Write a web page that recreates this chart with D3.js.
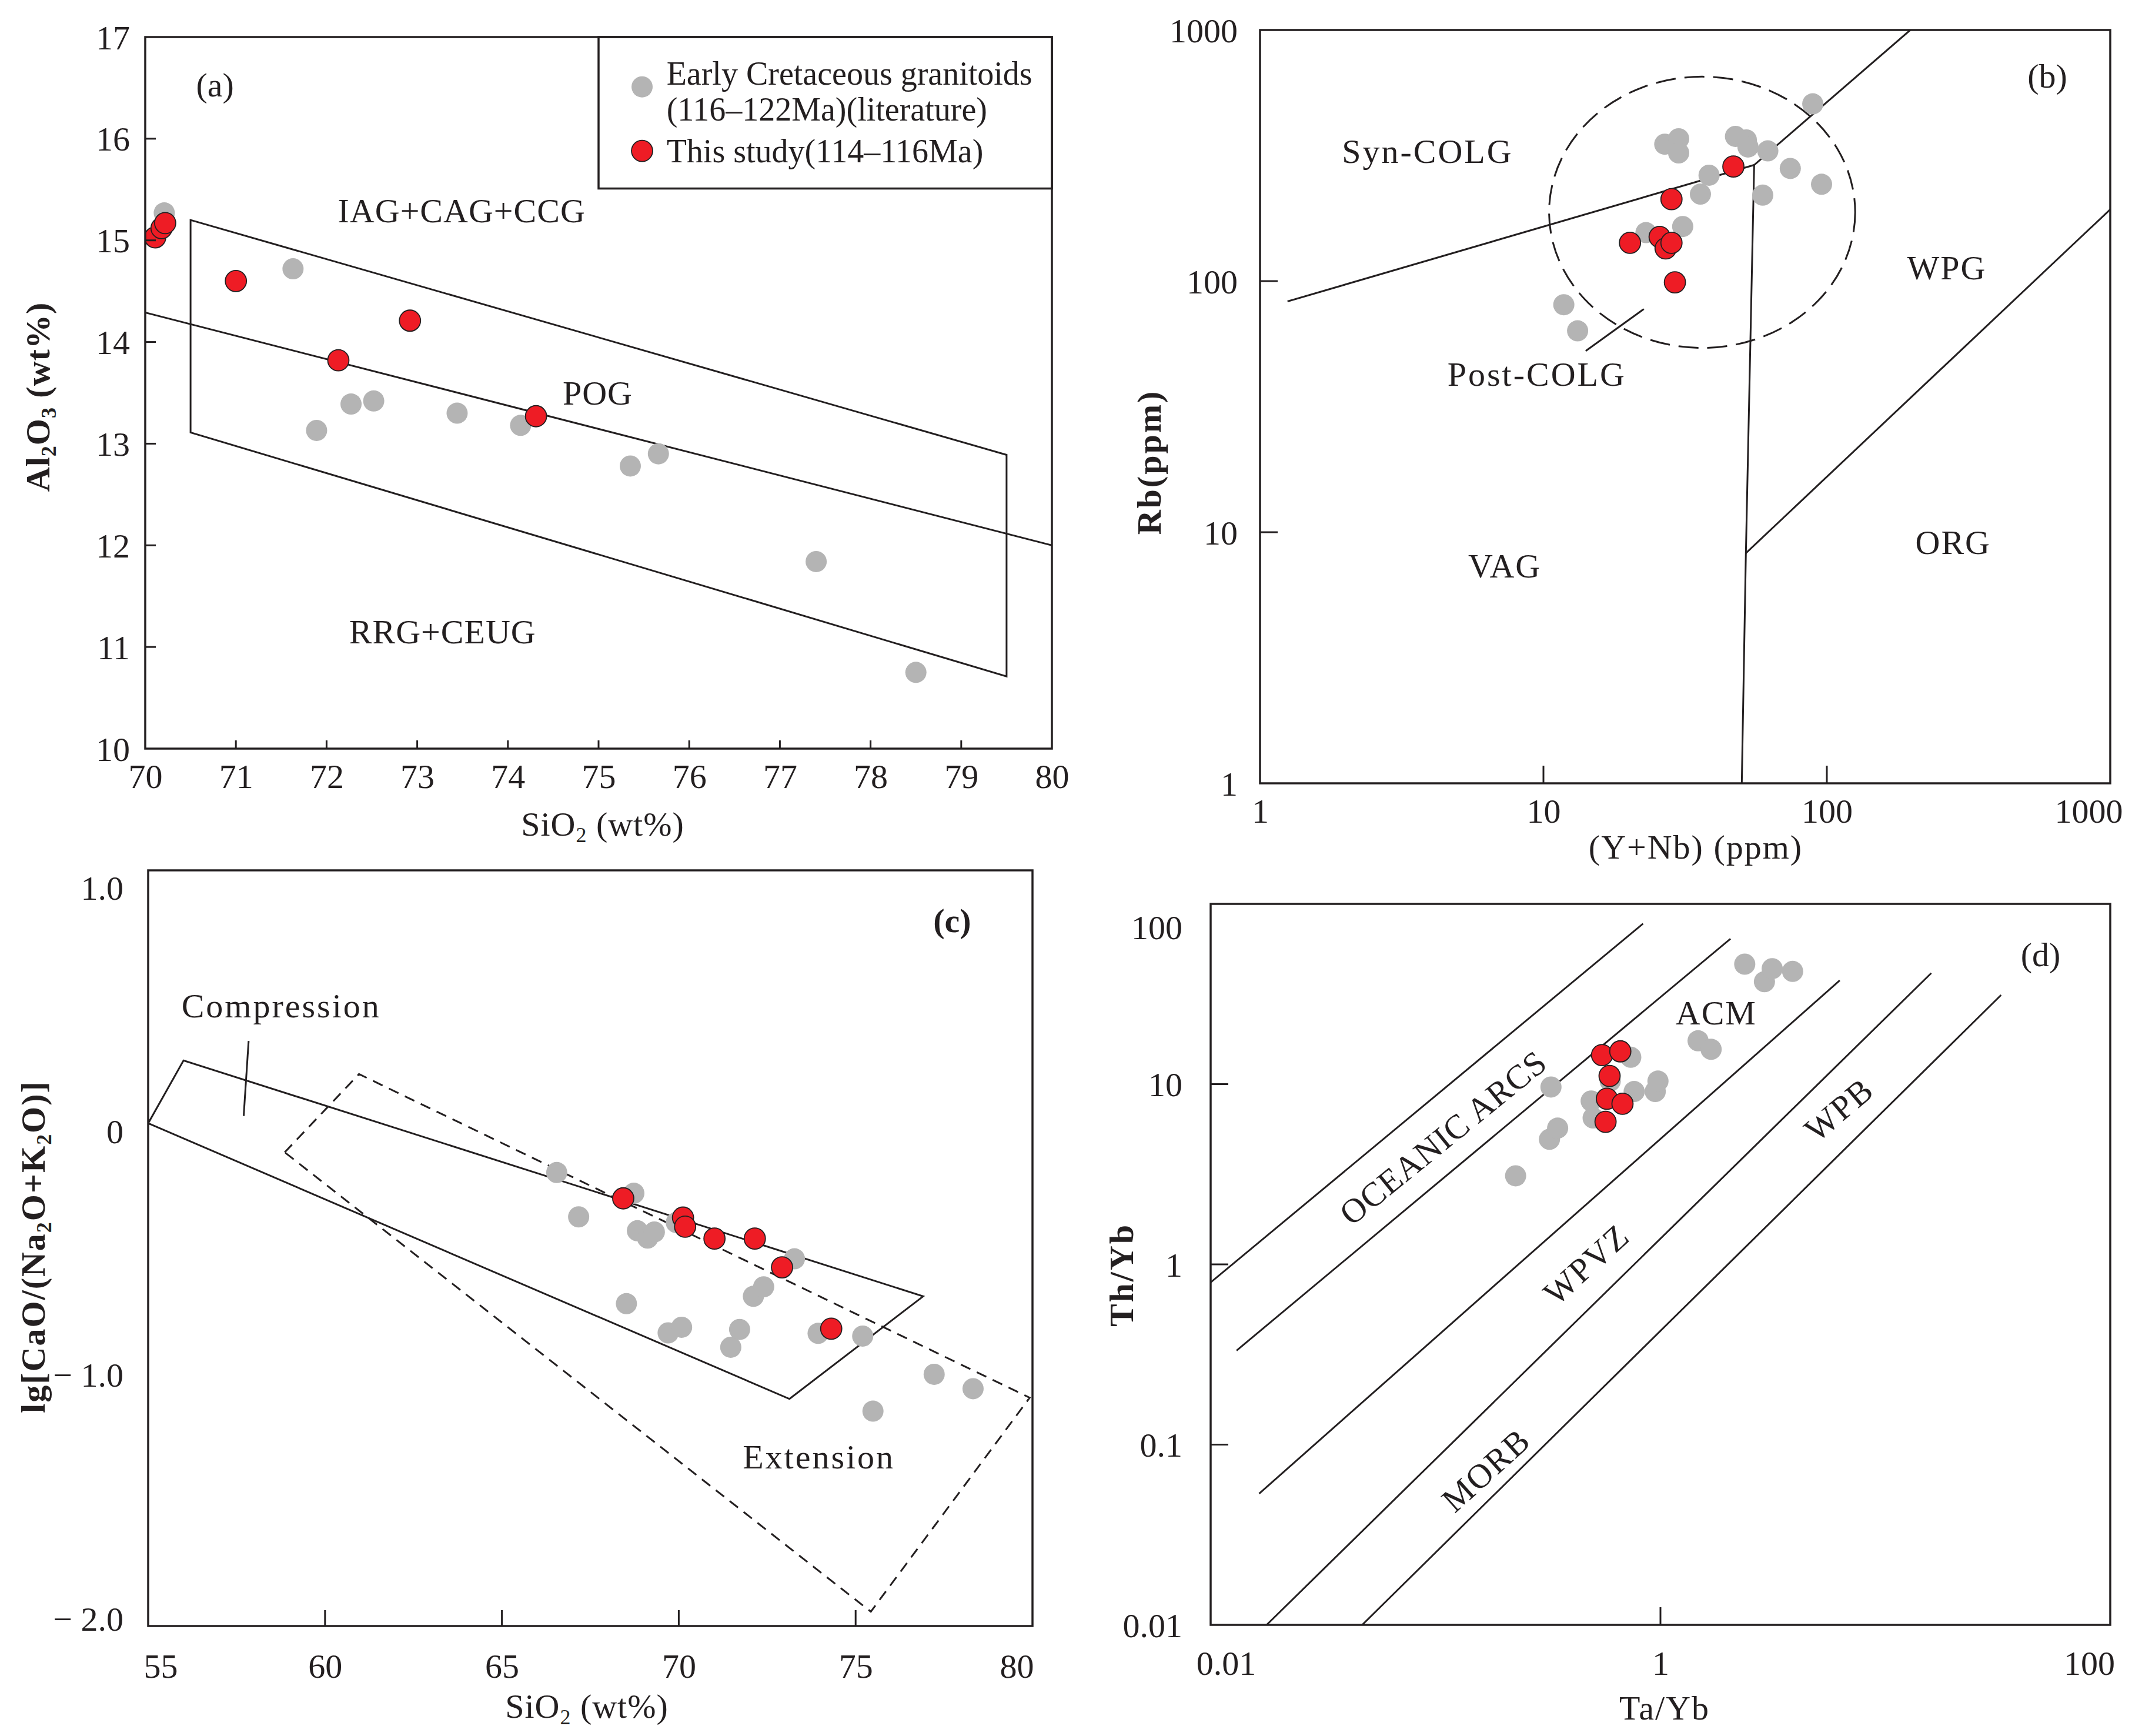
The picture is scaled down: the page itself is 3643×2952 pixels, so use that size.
<!DOCTYPE html>
<html>
<head>
<meta charset="utf-8">
<script src="https://cdn.jsdelivr.net/npm/d3@7"></script>
<style>html,body{margin:0;background:#fff}</style>
</head>
<body>
<svg id="fig" width="3643" height="2952"></svg>
<script>
// ---- (a) Al2O3 vs SiO2 ----
const aGraySiO2  = [70.21, 70.10, 71.63, 71.89, 72.27, 72.52, 73.44, 74.14, 75.35, 75.66, 77.40, 78.50];
const aGrayAl2O3 = [15.27, 15.03, 14.72, 13.13, 13.39, 13.42, 13.30, 13.18, 12.78, 12.90, 11.84, 10.75];
const aRedSiO2   = [70.11, 70.18, 70.22, 71.00, 72.92, 72.13, 74.31];
const aRedAl2O3  = [15.03, 15.12, 15.17, 14.60, 14.21, 13.82, 13.27];
const aXTicks = [70, 71, 72, 73, 74, 75, 76, 77, 78, 79, 80];
const aYTicks = [10, 11, 12, 13, 14, 15, 16, 17];
const aBox  = [[70.5, 15.2], [79.5, 12.89], [79.5, 10.71], [70.5, 13.11]];
const aLine = [[70, 14.29], [80, 12.0]];

// ---- (b) Rb vs Y+Nb ----
const bGrayYNb = [11.8, 13.2, 26.8, 30.0, 30.0, 38.4, 35.8, 47.6, 52.0, 52.7, 61.9, 59.4, 74.3, 89.2, 95.8, 23.0, 31.0, 26.8];
const bGrayRb  = [80.5, 63.4, 351, 369, 324, 264, 222, 377, 365, 342, 330, 220, 281, 508, 243, 156, 165, 136];
const bRedYNb  = [46.8, 28.3, 20.2, 25.7, 27.0, 28.3, 29.1];
const bRedRb   = [286, 212, 142, 150, 135, 142, 98.9];
const bTicks = [1, 10, 100, 1000];
const bSynVag  = [[1.25, 83], [55.4, 290]];
const bSynWpg  = [[55.4, 290], [197, 1000]];
const bVagWpg  = [[55.4, 290], [51.8, 8.25], [50.1, 1]];
const bWpgOrg  = [[51.8, 8.25], [1000, 193]];
const bPostColg = {x: 36.3, y: 188, r: 0.54};
const bPostLeader = [[14.1, 52.7], [22.6, 77.4]];

// ---- (c) lg[CaO/(Na2O+K2O)] vs SiO2 ----
const cGraySiO2 = [66.55, 67.17, 68.73, 68.83, 69.12, 69.31, 68.52, 69.70, 70.08, 69.93, 71.47, 71.72, 72.11, 72.40, 73.27, 73.94, 75.20, 75.49, 77.22, 78.32];
const cGrayLg   = [-0.170, -0.352, -0.255, -0.409, -0.439, -0.414, -0.708, -0.828, -0.805, -0.375, -0.887, -0.814, -0.678, -0.639, -0.524, -0.830, -0.841, -1.149, -0.998, -1.057];
const cRedSiO2  = [68.43, 70.12, 70.18, 71.01, 72.15, 72.92, 74.31];
const cRedLg    = [-0.276, -0.355, -0.392, -0.441, -0.441, -0.559, -0.811];
const cXTicks = [55, 60, 65, 70, 75, 80];
const cYTicks = [1, 0, -1, -2];
const cYLabels = ["1.0", "0", "\u2212 1.0", "\u2212 2.0"];
const cCompression = [[55, 0.032], [56.0, 0.29], [76.91, -0.678], [73.13, -1.099]];
const cCompLeader  = [[57.84, 0.37], [57.70, 0.062]];
const cExtension   = [[58.86, -0.087], [60.96, 0.234], [79.92, -1.094], [75.43, -1.972]];

// ---- (d) Th/Yb vs Ta/Yb ----
const dGrayTaYb = [0.227, 0.321, 0.349, 0.326, 0.492, 0.502, 0.738, 0.764, 0.948, 0.975, 1.47, 1.68, 2.37, 2.90, 3.14, 3.87, 0.598];
const dGrayThYb = [3.10, 4.94, 5.70, 9.64, 8.06, 6.49, 14.1, 9.10, 9.10, 10.4, 17.4, 15.6, 46.3, 37.0, 43.7, 42.2, 10.4];
const dRedTaYb  = [0.550, 0.663, 0.594, 0.578, 0.678, 0.570];
const dRedThYb  = [14.5, 15.2, 11.1, 8.29, 7.78, 6.18];
const dXTicks = [0.01, 1, 100];
const dYTicks = [0.01, 0.1, 1, 10, 100];
const dLines = [
  [[0.01, 0.794], [0.837, 77.7]],
  [[0.01304, 0.3326], [2.048, 64.0]],
  [[0.01643, 0.0535], [6.27, 37.6]],
  [[0.01774, 0.01], [16.0, 41.3]],
  [[0.0472, 0.01], [32.7, 31.2]]
];

const INK = "#231f20", GRAY = "#b4b4b4", RED = "#ee1c25";
const FONT = "'Liberation Serif', 'Times New Roman', serif";
const FS = 58, R = 18;

const svg = d3.select("#fig");
svg.append("rect").attr("width", 3643).attr("height", 2952).attr("fill", "#fff");
const defs = svg.append("defs");

function panel(id, xs, ys) {
  const [x0, x1] = xs.range(), [y0, y1] = ys.range();
  defs.append("clipPath").attr("id", "clip-" + id).append("rect")
    .attr("x", x0).attr("y", y1).attr("width", x1 - x0).attr("height", y0 - y1);
  const g = svg.append("g");
  const plot = g.append("g").attr("clip-path", `url(#clip-${id})`);
  return {g, plot};
}

function frame(g, xs, ys) {
  const [x0, x1] = xs.range(), [y0, y1] = ys.range();
  g.append("rect").attr("x", x0).attr("y", y1).attr("width", x1 - x0).attr("height", y0 - y1)
    .attr("fill", "none").attr("stroke", INK).attr("stroke-width", 3.5);
}

function axes(g, xs, ys, o) {
  const gx = g.append("g").attr("transform", `translate(0,${ys.range()[0]})`)
    .call(d3.axisBottom(xs).tickValues(o.xt).tickFormat((d, i) => o.xl[i]).tickSize(0));
  gx.select(".domain").remove();
  gx.attr("font-family", FONT).attr("font-size", FS).attr("color", INK);
  gx.selectAll(".tick text").attr("y", o.xOff).attr("dy", null)
    .attr("dx", (d, i) => (o.xDx && o.xDx[i]) || 0);

  const gy = g.append("g").attr("transform", `translate(${xs.range()[0]},0)`)
    .call(d3.axisLeft(ys).tickValues(o.yt).tickFormat((d, i) => o.yl[i]).tickSize(0));
  gy.select(".domain").remove();
  gy.attr("font-family", FONT).attr("font-size", FS).attr("color", INK);
  gy.selectAll(".tick text").attr("x", -o.yPad)
    .attr("dy", (d, i) => 20 + ((o.yDy && o.yDy[i]) || 0));

  const yb = ys.range()[0], xl = xs.range()[0];
  g.selectAll(null).data(o.xm || []).join("line")
    .attr("x1", d => xs(d)).attr("x2", d => xs(d)).attr("y1", yb).attr("y2", yb - o.xtl)
    .attr("stroke", INK).attr("stroke-width", 3);
  g.selectAll(null).data(o.ym || []).join("line")
    .attr("x1", xl).attr("x2", xl + o.ytl).attr("y1", d => ys(d)).attr("y2", d => ys(d))
    .attr("stroke", INK).attr("stroke-width", 3);
}

function dots(g, xs, ys, X, Y, fill, outline) {
  g.selectAll(null).data(d3.zip(X, Y)).join("circle")
    .attr("cx", d => xs(d[0])).attr("cy", d => ys(d[1])).attr("r", R)
    .attr("fill", fill).attr("stroke", outline ? INK : "none").attr("stroke-width", 1.8);
}

function poly(g, xs, ys, pts, closed, dash) {
  const line = d3.line().x(d => xs(d[0])).y(d => ys(d[1]));
  g.append("path").attr("d", line(pts) + (closed ? "Z" : ""))
    .attr("fill", "none").attr("stroke", INK).attr("stroke-width", 3)
    .attr("stroke-dasharray", dash || null);
}

function label(g, x, y, text, o = {}) {
  const t = g.append("text")
    .attr("transform", `translate(${x},${y}) rotate(${o.rot || 0})`)
    .attr("text-anchor", o.anchor || "middle").attr("dy", "0.34em")
    .attr("font-family", FONT).attr("font-size", o.size || FS)
    .attr("font-weight", o.bold ? "bold" : "normal")
    .attr("letter-spacing", o.ls == null ? 2 : o.ls)
    .attr("fill", INK);
  if (Array.isArray(text)) {
    // parts: [string, isSubscript]
    let prevSub = false;
    text.forEach(([s, sub]) => {
      const sp = t.append("tspan").text(s);
      if (sub) sp.attr("font-size", (o.size || FS) * 0.62);
      if (sub !== prevSub) sp.attr("dy", sub ? 11 : -11);
      prevSub = sub;
    });
  } else t.text(text);
  return t;
}

// ================= (a) =================
{
  const xs = d3.scaleLinear().domain([70, 80]).range([247, 1789]);
  const ys = d3.scaleLinear().domain([10, 17]).range([1273, 63]);
  const {g, plot} = panel("a", xs, ys);
  poly(plot, xs, ys, aBox, true);
  poly(plot, xs, ys, aLine, false);
  dots(plot, xs, ys, aGraySiO2, aGrayAl2O3, GRAY, false);
  dots(plot, xs, ys, aRedSiO2, aRedAl2O3, RED, true);
  // legend
  g.append("rect").attr("x", xs(75)).attr("y", ys(17)).attr("width", xs(80) - xs(75)).attr("height", ys(15.51) - ys(17))
    .attr("fill", "#fff").attr("stroke", INK).attr("stroke-width", 3.5);
  dots(g, xs, ys, [75.48], [16.51], GRAY, false);
  dots(g, xs, ys, [75.48], [15.88], RED, true);
  label(g, xs(75.75), ys(16.64), "Early Cretaceous granitoids", {anchor: "start", ls: 0, size: 56});
  label(g, xs(75.75), ys(16.29), "(116\u2013122Ma)(literature)", {anchor: "start", ls: 0, size: 56});
  label(g, xs(75.75), ys(15.88), "This study(114\u2013116Ma)", {anchor: "start", ls: 0, size: 56});
  label(g, xs(70.77), ys(16.53), "(a)", {ls: 0});
  label(g, xs(73.49), ys(15.29), "IAG+CAG+CCG", {ls: 1});
  label(g, xs(74.99), ys(13.50), "POG", {ls: 1});
  label(g, xs(73.28), ys(11.15), "RRG+CEUG", {ls: 1});
  axes(g, xs, ys, {xt: aXTicks, xl: aXTicks.map(String), xOff: 67, yt: aYTicks, yl: aYTicks.map(String), yPad: 26,
    xm: aXTicks.slice(1, -1), xtl: 14, ym: aYTicks.slice(1, -1), ytl: 18});
  frame(g, xs, ys);
  label(g, 1025, 1401, [["SiO", false], ["2", true], [" (wt%)", false]], {ls: 1});
  label(g, 64, 675, [["Al", false], ["2", true], ["O", false], ["3", true], [" (wt%)", false]], {rot: -90, bold: true, ls: 1});
}

// ================= (b) =================
{
  const xs = d3.scaleLog().domain([1, 1000]).range([2143, 3589]);
  const ys = d3.scaleLog().domain([1, 1000]).range([1332, 51]);
  const {g, plot} = panel("b", xs, ys);
  [bSynVag, bSynWpg, bVagWpg, bWpgOrg, bPostLeader].forEach(l => poly(plot, xs, ys, l, false));
  const e = bPostColg, f = Math.pow(10, e.r);
  plot.append("ellipse").attr("cx", xs(e.x)).attr("cy", ys(e.y))
    .attr("rx", xs(e.x * f) - xs(e.x)).attr("ry", ys(e.y) - ys(e.y * f))
    .attr("fill", "none").attr("stroke", INK).attr("stroke-width", 3).attr("stroke-dasharray", "34,15");
  dots(plot, xs, ys, bGrayYNb, bGrayRb, GRAY, false);
  dots(plot, xs, ys, bRedYNb, bRedRb, RED, true);
  label(g, xs(3.90), ys(329), "Syn-COLG", {ls: 3});
  label(g, xs(9.48), ys(42.6), "Post-COLG", {ls: 3});
  label(g, xs(265), ys(113), "WPG", {ls: 2});
  label(g, xs(7.30), ys(7.36), "VAG", {ls: 2});
  label(g, xs(279), ys(9.12), "ORG", {ls: 2});
  label(g, xs(600), ys(655), "(b)", {ls: 0});
  axes(g, xs, ys, {xt: bTicks, xl: bTicks.map(String), xOff: 67, xDx: [0, 0, 0, -37],
    yt: bTicks, yl: bTicks.map(String), yPad: 38, xm: [10, 100], xtl: 30, ym: [10, 100], ytl: 30});
  frame(g, xs, ys);
  label(g, 2884, 1440, "(Y+Nb) (ppm)", {ls: 2});
  label(g, 1954, 786, "Rb(ppm)", {rot: -90, bold: true, ls: 3});
}

// ================= (c) =================
{
  const xs = d3.scaleLinear().domain([55, 80]).range([252, 1756]);
  const ys = d3.scaleLinear().domain([-2.031, 1.07]).range([2765, 1480]);
  const {g, plot} = panel("c", xs, ys);
  poly(plot, xs, ys, cCompression, true);
  poly(plot, xs, ys, cCompLeader, false);
  poly(plot, xs, ys, cExtension, true, "18,12");
  dots(plot, xs, ys, cGraySiO2, cGrayLg, GRAY, false);
  dots(plot, xs, ys, cRedSiO2, cRedLg, RED, true);
  label(g, xs(58.76), ys(0.514), "Compression", {ls: 3});
  label(g, xs(73.96), ys(-1.336), "Extension", {ls: 3});
  label(g, xs(77.73), ys(0.865), "(c)", {ls: 0, bold: true});
  axes(g, xs, ys, {xt: cXTicks, xl: cXTicks.map(String), xOff: 88, xDx: [21, 0, 0, 0, 0, -27],
    yt: cYTicks, yl: cYLabels, yPad: 42, xm: cXTicks.slice(1, -1), xtl: 27});
  frame(g, xs, ys);
  label(g, 998, 2901, [["SiO", false], ["2", true], [" (wt%)", false]], {ls: 1});
  label(g, 56, 2120, [["lg[CaO/(Na", false], ["2", true], ["O+K", false], ["2", true], ["O)]", false]], {rot: -90, bold: true, ls: 2});
}

// ================= (d) =================
{
  const xs = d3.scaleLog().domain([0.01, 100]).range([2059, 3589]);
  const ys = d3.scaleLog().domain([0.01, 100]).range([2763, 1537]);
  const {g, plot} = panel("d", xs, ys);
  dLines.forEach(l => poly(plot, xs, ys, l, false));
  dots(plot, xs, ys, dGrayTaYb, dGrayThYb, GRAY, false);
  dots(plot, xs, ys, dRedTaYb, dRedThYb, RED, true);
  label(g, xs(0.108), ys(5.05), "OCEANIC ARCS", {rot: -39, ls: 1});
  label(g, xs(1.77), ys(24.9), "ACM", {ls: 2});
  label(g, xs(0.468), ys(1.0), "WPVZ", {rot: -42, ls: 2});
  label(g, xs(6.22), ys(7.22), "WPB", {rot: -40, ls: 2});
  label(g, xs(0.1675), ys(0.0723), "MORB", {rot: -42, ls: 2});
  label(g, xs(49), ys(52.4), "(d)", {ls: 0});
  axes(g, xs, ys, {xt: dXTicks, xl: ["0.01", "1", "100"], xOff: 85, xDx: [26, 0, -36],
    yt: dYTicks, yl: ["0.01", "0.1", "1", "10", "100"], yDy: [0, 0, 0, 0, 39], yPad: 48,
    xm: [1], xtl: 30, ym: [0.1, 1, 10], ytl: 30});
  frame(g, xs, ys);
  label(g, 2831, 2904, "Ta/Yb", {ls: 2});
  label(g, 1907, 2168, "Th/Yb", {rot: -90, bold: true, ls: 3});
}
</script>
</body>
</html>
